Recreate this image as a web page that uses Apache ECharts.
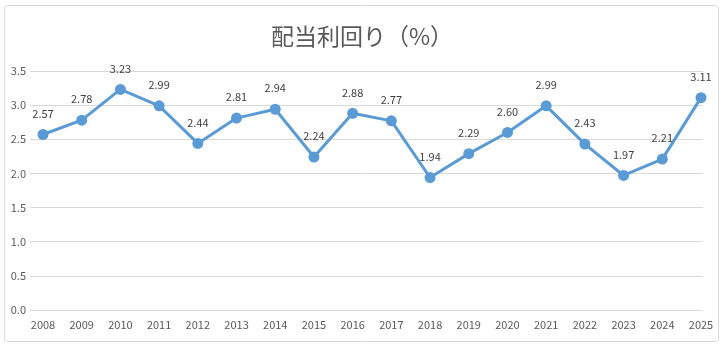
<!DOCTYPE html>
<html><head><meta charset="utf-8">
<script src="https://cdn.jsdelivr.net/npm/echarts@6/dist/echarts.min.js"></script>
<style>html,body{margin:0;padding:0;background:#fff}#c{width:724px;height:348px}</style>
</head><body><div id="c"></div>
<script>
const years = ['2008','2009','2010','2011','2012','2013','2014','2015','2016','2017','2018','2019','2020','2021','2022','2023','2024','2025'];
const yieldValues = [2.57,2.78,3.23,2.99,2.44,2.81,2.94,2.24,2.88,2.77,1.94,2.29,2.60,2.99,2.43,1.97,2.21,3.11];
const yTicks = [0,0.5,1.0,1.5,2.0,2.5,3.0,3.5];
const titleText = '配当利回り（%）';

const font = '"Noto Sans CJK JP","Noto Sans",sans-serif';
const chart = echarts.init(document.getElementById('c'), null, {renderer:'canvas'});
chart.setOption({
  animation:false,
  backgroundColor:'#fff',
  title:{text:titleText,left:'center',top:20,textStyle:{fontFamily:font,fontSize:23,fontWeight:'normal',color:'#595959'}},
  graphic:[{type:'rect',shape:{x:4.5,y:5.5,width:714,height:336,r:3},style:{fill:'none',stroke:'#d9d9d9',lineWidth:1}}],
  grid:[
    {left:30,right:21,top:71,bottom:38,containLabel:false},
    {left:43,right:23,top:71,bottom:38,containLabel:false}
  ],
  xAxis:[
    {gridIndex:0,type:'value',min:0,max:1,show:false},
    {gridIndex:1,type:'category',data:years,boundaryGap:false,
     axisLine:{show:false},axisTick:{show:false},splitLine:{show:false},
     axisLabel:{interval:0,margin:9,fontFamily:font,fontSize:11,color:'#595959'}}
  ],
  yAxis:[
    {gridIndex:0,type:'value',min:yTicks[0],max:yTicks[yTicks.length-1],interval:0.5,
     axisLine:{show:false},axisTick:{show:false},
     splitLine:{lineStyle:{color:'#d9d9d9',width:1}},
     axisLabel:{margin:4,fontFamily:font,fontSize:11,color:'#595959',formatter:v=>v.toFixed(1)}},
    {gridIndex:1,type:'value',min:yTicks[0],max:yTicks[yTicks.length-1],interval:0.5,show:false,splitLine:{show:false}}
  ],
  series:[{
    type:'line',xAxisIndex:1,yAxisIndex:1,data:yieldValues,
    symbol:'circle',symbolSize:11,
    lineStyle:{color:'#5B9BD5',width:3},
    itemStyle:{color:'#5B9BD5'},
    label:{show:true,position:'top',distance:10,fontFamily:font,fontSize:11,color:'#404040',formatter:p=>p.value.toFixed(2)}
  }]
});
</script></body></html>
